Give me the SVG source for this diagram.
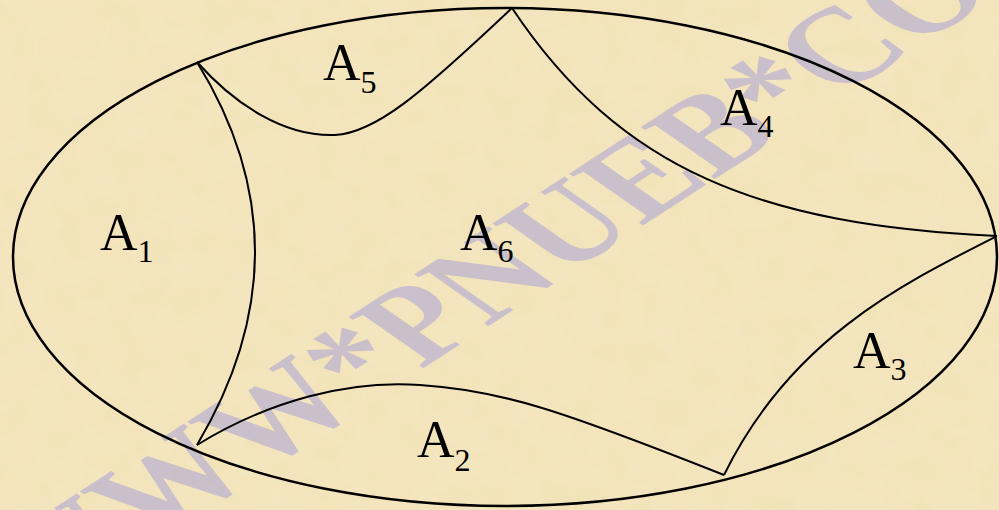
<svg xmlns="http://www.w3.org/2000/svg" width="999" height="510" viewBox="0 0 999 510">
  <defs>
    <filter id="paper" x="0" y="0" width="100%" height="100%">
      <feTurbulence type="fractalNoise" baseFrequency="0.035" numOctaves="4" seed="7" result="n"/>
      <feColorMatrix in="n" type="matrix" values="0 0 0 0 0.93  0 0 0 0 0.82  0 0 0 0 0.60  0 0 0 0.55 -0.1" result="c"/>
      <feComposite in="c" in2="SourceGraphic" operator="over"/>
    </filter>
    <style>
      .bg { fill: #F2E3B8; }
      .outline { fill: none; stroke: #000; stroke-width: 2.5; }
      .curve { fill: none; stroke: #000; stroke-width: 2; stroke-linejoin: miter; }
      .lbl { font-family: "Liberation Serif", "Times New Roman", serif; font-size: 52px; fill: #000; }
      .sub { font-size: 32px; }
      .wm { font-family: "Liberation Serif", "Times New Roman", serif; font-weight: bold; font-size: 128px; fill: #6E6EF0; opacity: 0.3; }
    </style>
  </defs>

  <rect class="bg" x="0" y="0" width="999" height="510" filter="url(#paper)"/>

  <text class="wm" transform="translate(45,614) rotate(-33) skewX(22)">WWW*PNUEB*COM</text>

  <g id="boundary">
    <ellipse class="outline" cx="505" cy="257" rx="492" ry="249"/>
  </g>

  <g id="connectors">
    <path id="c1" class="curve" d="M197,62 Q313,250 197,445"/>
    <path id="c5" class="curve" d="M197,62 C235,105 285,137 335,135 C375,133 420,95 512,8"/>
    <path id="c4" class="curve" d="M512,8 C620,170 760,225 997,236"/>
    <path id="c3" class="curve" d="M997,236 C900,285 790,340 724,475"/>
    <path id="c2" class="curve" d="M197,445 C270,400 350,380 420,385 C500,390 560,410 724,475"/>
  </g>

  <g id="A1"><text class="lbl" x="100" y="250">A<tspan class="sub" dy="12">1</tspan></text></g>
  <g id="A2"><text class="lbl" x="417" y="457">A<tspan class="sub" dy="14">2</tspan></text></g>
  <g id="A3"><text class="lbl" x="853" y="368">A<tspan class="sub" dy="12">3</tspan></text></g>
  <g id="A4"><text class="lbl" x="720" y="125">A<tspan class="sub" dy="12">4</tspan></text></g>
  <g id="A5"><text class="lbl" x="323" y="80">A<tspan class="sub" dy="13">5</tspan></text></g>
  <g id="A6"><text class="lbl" x="460" y="250">A<tspan class="sub" dy="12">6</tspan></text></g>
</svg>
